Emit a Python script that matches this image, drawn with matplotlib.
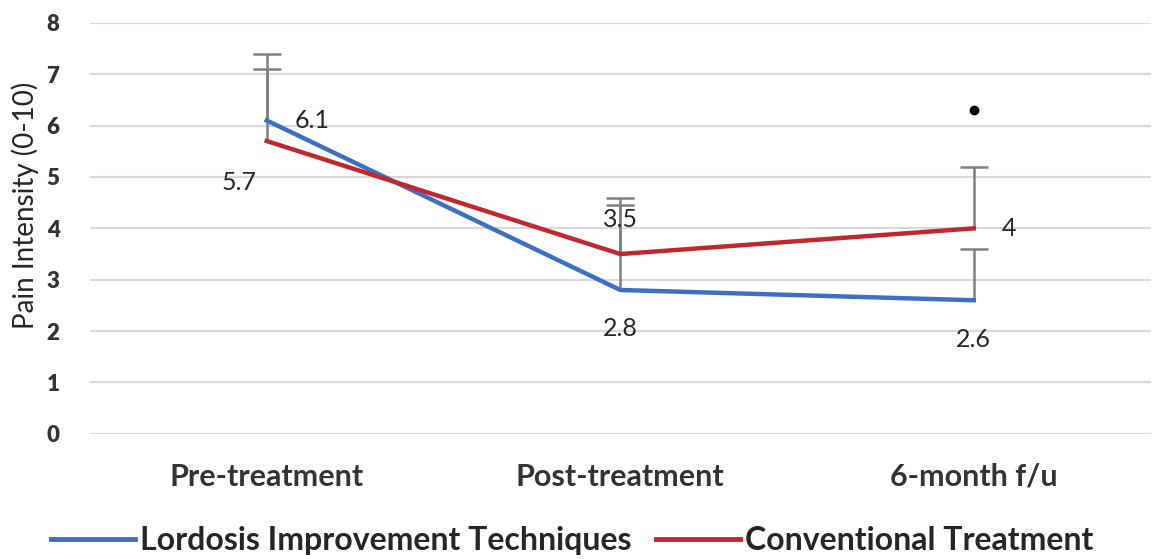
import matplotlib
matplotlib.use("Agg")
import matplotlib.pyplot as plt
from matplotlib.lines import Line2D

categories = ["Pre-treatment", "Post-treatment", "6-month f/u"]
lordosis = [6.1, 2.8, 2.6]
lordosis_err = [1.3, 1.65, 1.0]
conventional = [5.7, 3.5, 4.0]
conventional_err = [1.4, 1.1, 1.2]
series_names = ["Lordosis Improvement Techniques", "Conventional Treatment"]
yticks = [0, 1, 2, 3, 4, 5, 6, 7, 8]
sig_point = (2, 6.3)

plt.rcParams['font.family'] = ['Lato', 'DejaVu Sans']

fig = plt.figure(figsize=(11.54, 5.59), dpi=100)
ax = fig.add_axes([0.078, 0.224, 0.919, 0.735])

blue = "#3d6fc2"
red = "#c0282e"
grey = "#7f7f7f"
x = list(range(len(categories)))

for vals, errs in [(lordosis, lordosis_err), (conventional, conventional_err)]:
    tops = [v + e for v, e in zip(vals, errs)]
    ax.vlines(x, vals, tops, color=grey, lw=1.8, zorder=2)
    ax.plot(x, tops, linestyle='none', marker='_', ms=20, mew=1.8, color=grey, zorder=2)

ax.plot(x, lordosis, color=blue, lw=3.2, zorder=3)
ax.plot(x, conventional, color=red, lw=3.2, zorder=4)

ax.plot([sig_point[0]], [sig_point[1]], 'o', color='black', ms=6, zorder=5)

lab_kw = dict(fontsize=18, color="#262626", zorder=6)
ax.annotate(f"{lordosis[0]}", (x[0], lordosis[0]), xytext=(33, 0), textcoords='offset points', ha='center', va='center', **lab_kw)
ax.annotate(f"{conventional[0]}", (x[0], conventional[0]), xytext=(-20, -30), textcoords='offset points', ha='center', va='center', **lab_kw)
ax.annotate(f"{conventional[1]}", (x[1], conventional[1]), xytext=(0, 25), textcoords='offset points', ha='center', va='center', **lab_kw)
ax.annotate(f"{lordosis[1]}", (x[1], lordosis[1]), xytext=(0, -28), textcoords='offset points', ha='center', va='center', **lab_kw)
ax.annotate(f"{conventional[2]:g}", (x[2], conventional[2]), xytext=(25, 0), textcoords='offset points', ha='center', va='center', **lab_kw)
ax.annotate(f"{lordosis[2]}", (x[2], lordosis[2]), xytext=(0, -28), textcoords='offset points', ha='center', va='center', **lab_kw)

ax.set_xlim(-0.5, 2.5)
ax.set_ylim(0, 8)
ax.set_yticks(yticks)
ax.set_yticklabels([str(t) for t in yticks], fontsize=16, fontweight='heavy', color="#333333")
ax.set_xticks(x)
ax.set_xticklabels(categories, fontsize=22, fontweight='bold', color="#333333")
ax.tick_params(axis='both', length=0)
ax.tick_params(axis='y', pad=22)
ax.tick_params(axis='x', pad=21)
ax.grid(axis='y', color="#d9d9d9", lw=1.5)
ax.set_axisbelow(True)
for s in ax.spines.values():
    s.set_visible(False)
ax.set_ylabel("Pain Intensity (0-10)", fontsize=20, color="#262626")
ax.yaxis.set_label_coords(-0.048, 0.555)

handles = [Line2D([0], [0], color=blue, lw=3.5), Line2D([0], [0], color=red, lw=3.5)]
fig.legend(handles, series_names, loc='lower left', bbox_to_anchor=(0.019, -0.045), ncol=2,
           frameon=False, handlelength=2.65, handletextpad=0.15, columnspacing=0.75,
           prop={'size': 23, 'weight': 'bold'}, labelcolor="#262626")

fig.savefig("out.png", dpi=100)
